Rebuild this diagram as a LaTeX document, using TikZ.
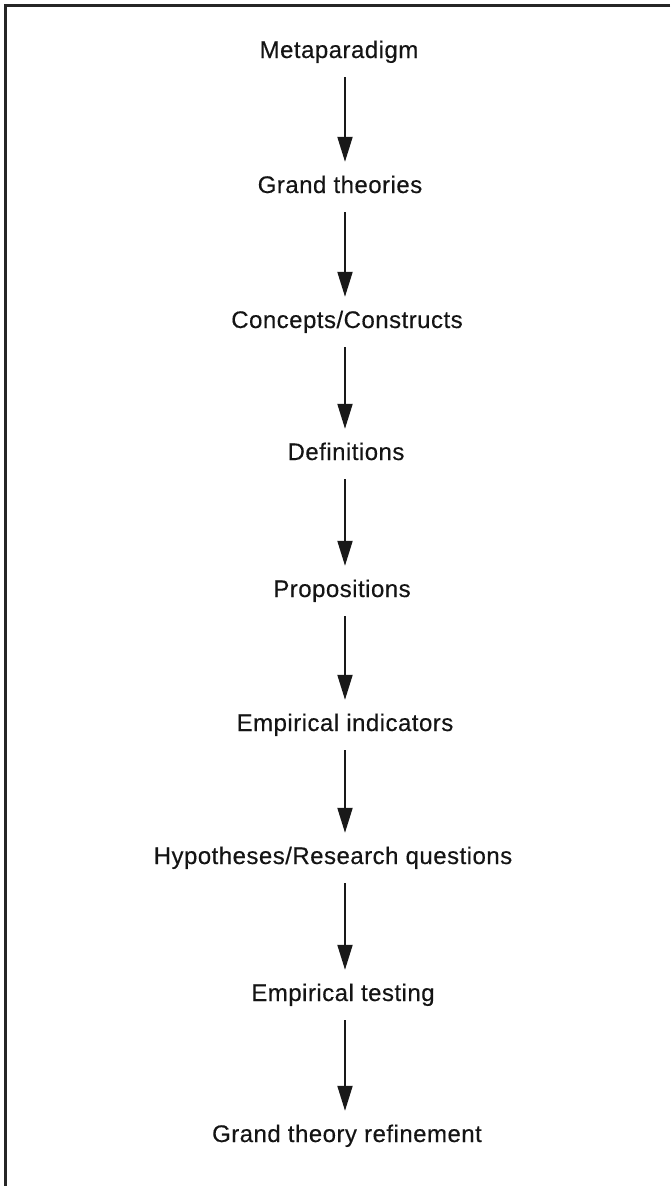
\documentclass[tikz,border=0pt]{standalone}
\usepackage{fontspec}
\setmainfont{Liberation Sans}[LetterSpace=2, FakeBold=0.35]
\usetikzlibrary{arrows.meta}

\tikzset{
  stage/.style={anchor=base, inner sep=0pt, text height=17pt, text depth=5pt,
                font=\fontsize{24}{28}\selectfont, text=black!92},
  flow/.style={line width=2pt, draw=black!90, shorten <=14pt, shorten >=14pt,
               -{Triangle[length=25pt,width=15pt]}},
  frameline/.style={line width=3pt, draw=black!85}
}

\begin{document}
\begin{tikzpicture}[x=1pt, y=-1pt]
  \useasboundingbox (0,0) rectangle (670,1186);

  % open frame: top and left edges only
  \draw[frameline] (670,5) -- (5,5) -- (5,1186);

  % vertical axis the arrows run along
  \coordinate (axis) at (345,0);

  % the stages, top to bottom
  \node[stage] (n1) at (339,58)   {Metaparadigm};
  \node[stage] (n2) at (340,193)  {Grand theories};
  \node[stage] (n3) at (347,328)  {Concepts/Constructs};
  \node[stage] (n4) at (346,460)  {Definitions};
  \node[stage] (n5) at (342,597)  {Propositions};
  \node[stage] (n6) at (345,731)  {Empirical indicators};
  \node[stage] (n7) at (333,864)  {Hypotheses/Research questions};
  \node[stage] (n8) at (343,1001) {Empirical testing};
  \node[stage] (n9) at (347,1142) {Grand theory refinement};

  % downward arrows between consecutive stages
  \foreach \a/\b in {n1/n2,n2/n3,n3/n4,n4/n5,n5/n6,n6/n7,n7/n8,n8/n9}
    \draw[flow] (\a.south -| axis) -- (\b.north -| axis);
\end{tikzpicture}
\end{document}
